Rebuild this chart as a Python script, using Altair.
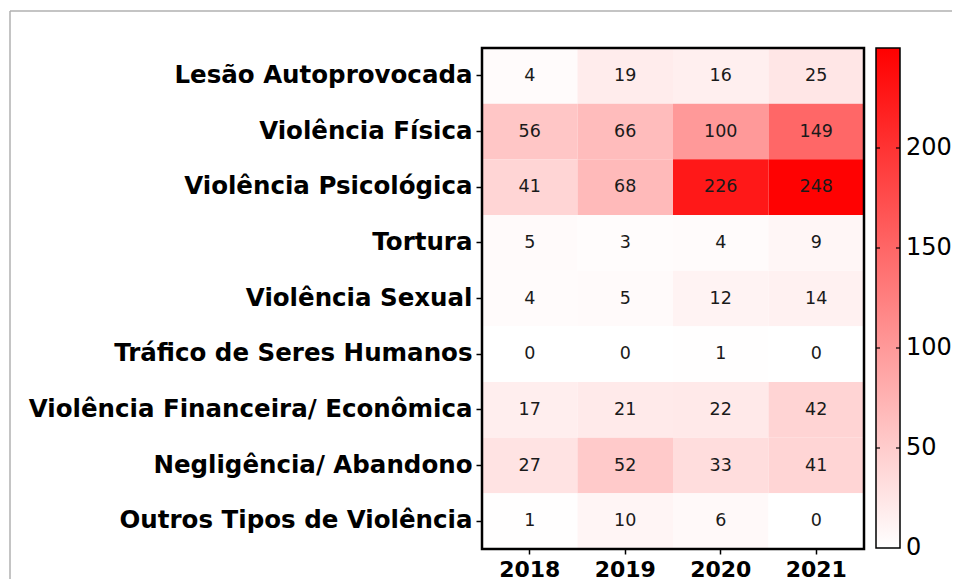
import altair as alt
import pandas as pd

categories = [
    "Lesão Autoprovocada",
    "Violência Física",
    "Violência Psicológica",
    "Tortura",
    "Violência Sexual",
    "Tráfico de Seres Humanos",
    "Violência Financeira/ Econômica",
    "Negligência/ Abandono",
    "Outros Tipos de Violência",
]
years = ["2018", "2019", "2020", "2021"]
values_2018 = [4, 56, 41, 5, 4, 0, 17, 27, 1]
values_2019 = [19, 66, 68, 3, 5, 0, 21, 52, 10]
values_2020 = [16, 100, 226, 4, 12, 1, 22, 33, 6]
values_2021 = [25, 149, 248, 9, 14, 0, 42, 41, 0]
colorbar_labels = [0, 50, 100, 150, 200]
colorbar_inner_ticks = [50, 100, 150, 200]
color_domain = [0, 250]
color_range = ["#ffffff", "#ff0000"]

rows = []
for yr, vals in zip(years, [values_2018, values_2019, values_2020, values_2021]):
    for cat, v in zip(categories, vals):
        rows.append({"year": yr, "cat": cat, "value": v})
df = pd.DataFrame(rows)

W, H = 382, 501
CB_X, CB_W, CB_LEN = 394, 24, 500

base = alt.Chart(df).encode(
    x=alt.X(
        "year:O",
        sort=years,
        title=None,
        axis=alt.Axis(
            labelAngle=0,
            labelFont="DejaVu Sans",
            labelFontWeight="bold",
            labelFontSize=22,
            labelColor="black",
            tickSize=5,
            tickColor="black",
            tickWidth=1.5,
            labelPadding=5,
            domain=False,
        ),
    ),
    y=alt.Y(
        "cat:N",
        sort=categories,
        title=None,
        axis=alt.Axis(
            labelFont="DejaVu Sans",
            labelFontWeight="bold",
            labelFontSize=24.5,
            labelColor="black",
            labelLimit=700,
            tickSize=6,
            tickColor="black",
            tickWidth=1.5,
            labelPadding=4,
            domain=False,
        ),
    ),
)

rect = base.mark_rect().encode(
    color=alt.Color(
        "value:Q",
        scale=alt.Scale(domain=color_domain, range=color_range, interpolate="rgb"),
        legend=None,
    )
)

text = base.mark_text(font="DejaVu Sans", fontSize=17.5, color="#1a1a1a").encode(
    text="value:Q"
)

heat = alt.layer(rect, text)

one = pd.DataFrame({"a": [0]})

plot_border = alt.Chart(one).mark_rect(
    fill=None, stroke="black", strokeWidth=2.5
).encode(x=alt.value(0), x2=alt.value(W), y=alt.value(0), y2=alt.value(H))

colorbar = alt.Chart(one).mark_rect(
    stroke="black",
    strokeWidth=1.5,
    fill=alt.Gradient(
        gradient="linear",
        stops=[
            alt.GradientStop(color=color_range[0], offset=0),
            alt.GradientStop(color=color_range[1], offset=1),
        ],
        x1=0, x2=0, y1=1, y2=0,
    ),
).encode(
    x=alt.value(CB_X), x2=alt.value(CB_X + CB_W), y=alt.value(0), y2=alt.value(CB_LEN)
)

cb_scale = alt.Scale(domain=color_domain, range=[CB_LEN, 0])
tick_df = pd.DataFrame({"v": colorbar_inner_ticks})
tick_y = alt.Y("v:Q", scale=cb_scale, axis=None)
ticks_l = alt.Chart(tick_df).mark_rule(color="black", strokeWidth=1.2).encode(
    x=alt.value(CB_X), x2=alt.value(CB_X + 4), y=tick_y
)
ticks_r = alt.Chart(tick_df).mark_rule(color="black", strokeWidth=1.2).encode(
    x=alt.value(CB_X + CB_W - 4), x2=alt.value(CB_X + CB_W), y=tick_y
)
lab_df = pd.DataFrame({"v": colorbar_labels})
cb_labels = alt.Chart(lab_df).mark_text(
    align="left", baseline="middle", font="DejaVu Sans", fontSize=24, color="black"
).encode(
    x=alt.value(CB_X + CB_W + 6),
    y=alt.Y("v:Q", scale=cb_scale, axis=None),
    text="v:Q",
)

frame_top = alt.Chart(one).mark_rule(color="#b0b0b0", strokeWidth=1.5).encode(
    x=alt.value(-472), x2=alt.value(480), y=alt.value(-37)
)
frame_left = alt.Chart(one).mark_rule(color="#b0b0b0", strokeWidth=1.5).encode(
    x=alt.value(-472), y=alt.value(-37), y2=alt.value(540)
)

cb_layer = alt.layer(colorbar, ticks_l, ticks_r, cb_labels)

chart = (
    alt.layer(heat, plot_border, cb_layer, frame_top, frame_left)
    .resolve_scale(y="independent")
    .properties(
        width=W,
        height=H,
        padding={"left": 474, "top": 40, "right": 88, "bottom": 30},
        autosize=alt.AutoSizeParams(type="none"),
        background="white",
    )
    .configure_view(stroke=None)
)

chart.save("out.html", embed_options={"renderer": "svg", "actions": False})
